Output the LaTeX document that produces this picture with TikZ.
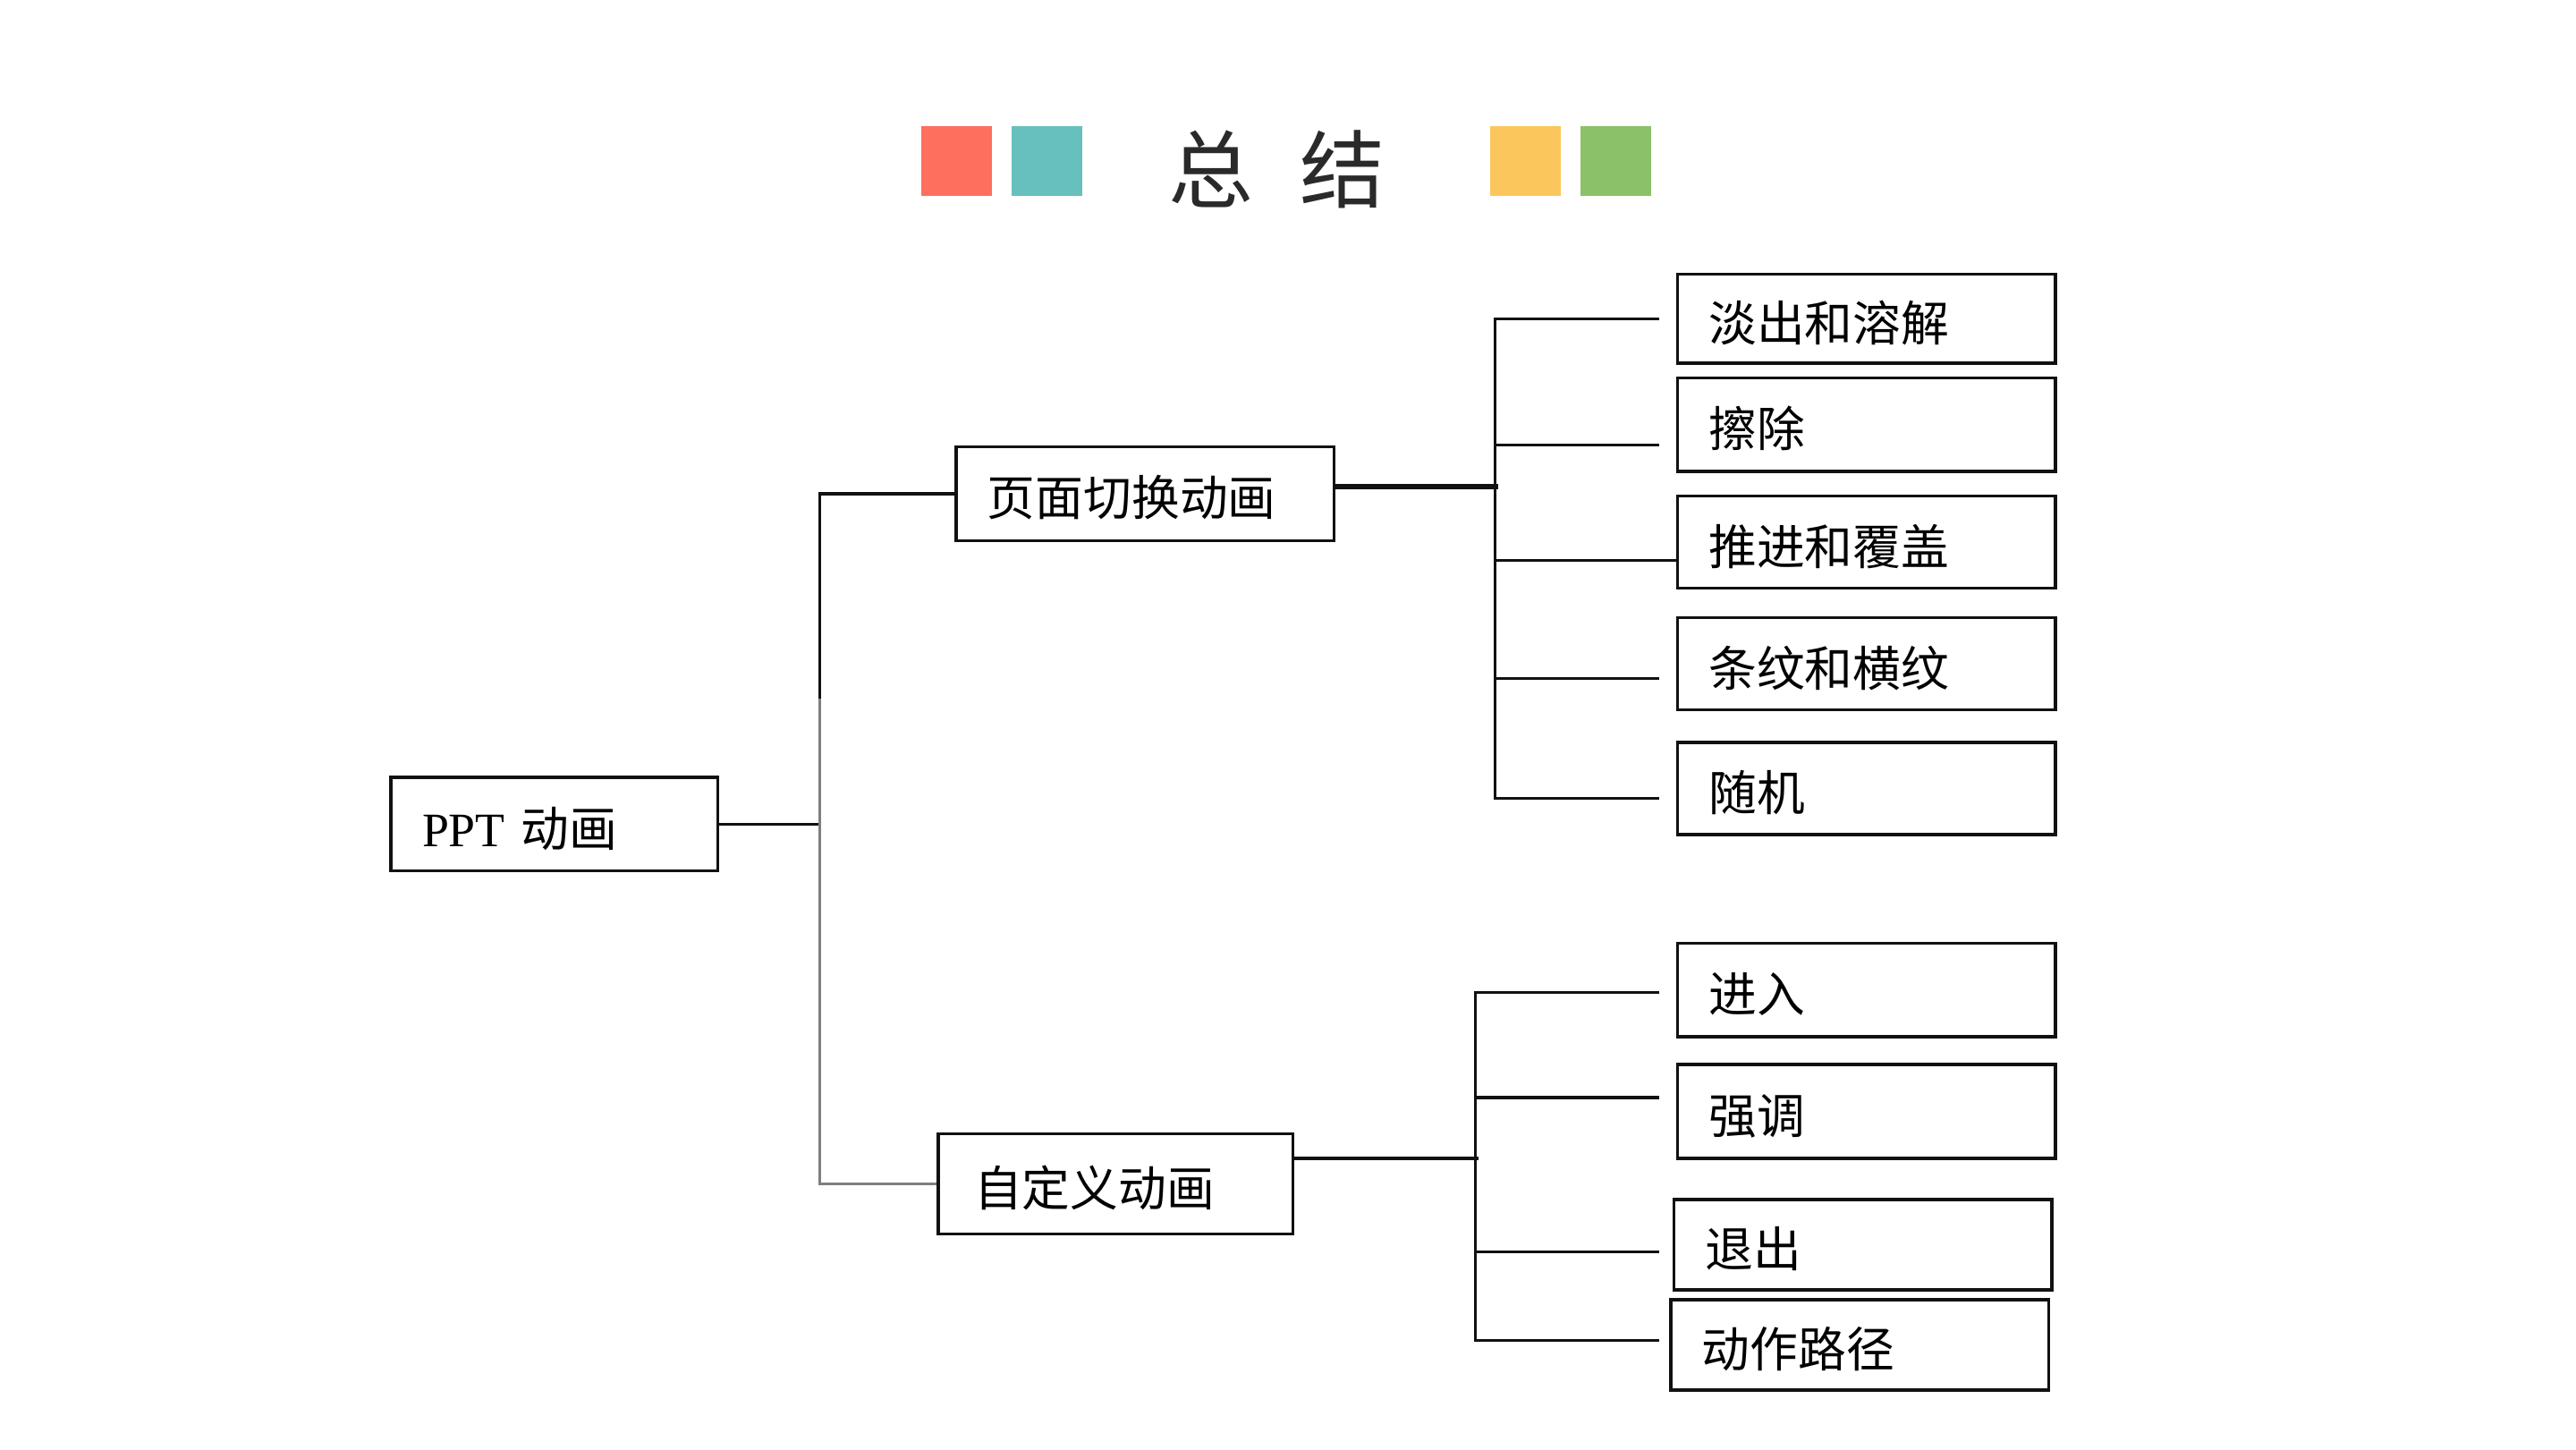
\documentclass[tikz,border=0pt]{standalone}
\usepackage{fontspec}
\usepackage{tikz}
\usetikzlibrary{calc}
\newfontfamily\cjk{Noto Sans CJK SC}
\newfontfamily\latinserif{Liberation Serif}
\definecolor{sumInk}{HTML}{111111}
\definecolor{sumTitle}{HTML}{2A2A2A}
\definecolor{sumGrey}{HTML}{7F7F7F}
\definecolor{sumRed}{HTML}{FF6F5E}
\definecolor{sumTeal}{HTML}{67C0BC}
\definecolor{sumYellow}{HTML}{FBC75C}
\definecolor{sumGreen}{HTML}{8BC168}
\tikzset{
  sum/base/.style={draw=sumInk, line width=1pt, align=left,
    font=\cjk\fontsize{15.3}{18}\selectfont, inner xsep=3.49mm, inner ysep=0pt,
    text height=15pt, text depth=0.8pt},
  sum/leaf/.style={sum/base, text width=35.26mm, minimum height=10.3mm},
  sum/branch/.style={sum/base, minimum height=10.47mm},
  sum/link/.style={draw=sumInk, line width=0.9pt},
  sum/thick/.style={draw=sumInk, line width=1.7pt},
  sum/swatch/.style={inner sep=0pt, minimum width=7.9mm, minimum height=7.71mm},
  sum/title/.style={font=\cjk\fontsize{27}{30}\selectfont, text=sumTitle},
}

\begin{document}
\begin{tikzpicture}[x=0.18367mm, y=-0.18367mm]
\useasboundingbox (0,0) rectangle (1568,882);

% title with colour swatches
\node[sum/swatch, fill=sumRed] (sqRed) at (582.5,98) {};
\node[sum/swatch, fill=sumTeal] (sqTeal) at (637.5,98) {};
\node[sum/title] (title) at (777,103) {总\hspace{0.55em}结};
\node[sum/swatch, fill=sumYellow] (sqYellow) at (928.5,98) {};
\node[sum/swatch, fill=sumGreen] (sqGreen) at (983.5,98) {};

% tree
\node[sum/branch, text width=29.57mm] (root) at (337.5,501.5) {{\latinserif PPT} 动画};
\node[sum/branch, text width=35.26mm] (page) at (697,300.5) {页面切换动画};
\node[sum/branch, text width=31.59mm, inner xsep=4.04mm, minimum height=11.2mm]
  (custom) at (679,720.5) {自定义动画};

\node[sum/leaf, minimum height=9.92mm] (fade) at (1136,194) {淡出和溶解};
\node[sum/leaf, minimum height=10.47mm] (erase) at (1136,258.5) {擦除};
\node[sum/leaf] (push) at (1136,330) {推进和覆盖};
\node[sum/leaf] (stripe) at (1136,404) {条纹和横纹};
\node[sum/leaf] (random) at (1136,480) {随机};

\node[sum/leaf, minimum height=10.47mm] (enter) at (1136,602.5) {进入};
\node[sum/leaf, minimum height=10.47mm] (emph) at (1136,676.5) {强调};
\node[sum/leaf, minimum height=10.1mm] (exit) at (1134,757.5) {退出};
\node[sum/leaf, minimum height=10.1mm] (path) at (1132,818.5) {动作路径};

% trunk
\coordinate (trunk) at (499,425);
\draw[sum/link] (root.east) -- (root.east -| trunk);
\draw[sum/link] (page.west) -| (trunk);
\draw[sum/link, draw=sumGrey] (trunk) |- (custom.west);

% page transition group
\draw[sum/thick] ($(page.east)+(0,-4.5)$) -- ++(99,0);
\draw[sum/link] ($(fade.west)+(-10,0)$) -| ($(random.west)+(-110,6)$)
  -- ($(random.west)+(-10,6)$);
\draw[sum/link] ($(erase.west)+(-10,12.5)$) -- ++(-100,0);
\draw[sum/link] ($(push.west)+(0,11)$) -- ++(-110,0);
\draw[sum/link] ($(stripe.west)+(-10,9)$) -- ++(-100,0);

% custom animation group
\draw[sum/link] ($(custom.east)+(0,-15.5)$) -- ++(112,0);
\draw[sum/link] ($(enter.west)+(-10,1.5)$) -| ($(path.west)+(-118,-2.5)$)
  -- ($(path.west)+(-6,-2.5)$);
\draw[sum/link] ($(emph.west)+(-10,-8.5)$) -- ++(-112,0);
\draw[sum/link] ($(exit.west)+(-8,4.5)$) -- ++(-112,0);
\end{tikzpicture}
\end{document}
